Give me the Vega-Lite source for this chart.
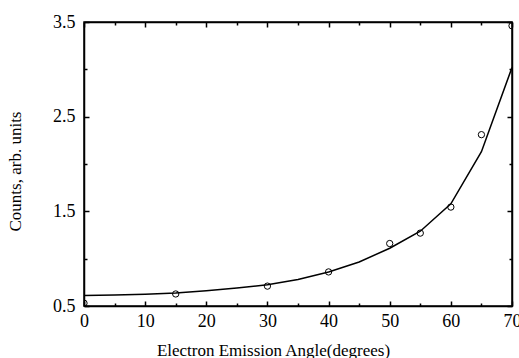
{
  "$schema": "https://vega.github.io/schema/vega-lite/v6.json",
  "width": 428,
  "height": 284,
  "autosize": {"type": "none"},
  "padding": {"left": 84, "top": 22, "right": 7, "bottom": 52},
  "background": "white",
  "config": {
    "view": {"stroke": "black", "strokeWidth": 1.5},
    "font": "Liberation Serif",
    "axis": {
      "domainColor": "black",
      "domainWidth": 1.5,
      "tickColor": "black",
      "tickWidth": 1.5,
      "grid": false,
      "labelFont": "Liberation Serif",
      "labelFontSize": 18,
      "labelFontWeight": "normal",
      "labelColor": "black",
      "titleFont": "Liberation Serif",
      "titleFontSize": 17,
      "titleFontWeight": "normal",
      "titleColor": "black"
    }
  },
  "datasets": {
    "fit": [
      {"angle": 0, "counts": 0.61},
      {"angle": 5, "counts": 0.615},
      {"angle": 10, "counts": 0.625},
      {"angle": 15, "counts": 0.637},
      {"angle": 20, "counts": 0.66},
      {"angle": 25, "counts": 0.69},
      {"angle": 30, "counts": 0.725},
      {"angle": 35, "counts": 0.78},
      {"angle": 40, "counts": 0.86},
      {"angle": 45, "counts": 0.965},
      {"angle": 50, "counts": 1.11},
      {"angle": 55, "counts": 1.29},
      {"angle": 60, "counts": 1.58},
      {"angle": 65, "counts": 2.13},
      {"angle": 70, "counts": 3.02}
    ],
    "obs": [
      {"angle": 0, "counts": 0.53},
      {"angle": 15, "counts": 0.627},
      {"angle": 30, "counts": 0.71},
      {"angle": 40, "counts": 0.86},
      {"angle": 50, "counts": 1.16},
      {"angle": 55, "counts": 1.27},
      {"angle": 60, "counts": 1.545},
      {"angle": 65, "counts": 2.31},
      {"angle": 70, "counts": 3.46}
    ]
  },
  "layer": [
    {
      "data": {"name": "fit"},
      "mark": {"type": "line", "color": "black", "strokeWidth": 1.5, "clip": true},
      "encoding": {
        "x": {
          "field": "angle", "type": "quantitative",
          "scale": {"domain": [0, 70], "nice": false, "zero": false},
          "axis": {
            "orient": "bottom",
            "title": "Electron Emission Angle(degrees)",
            "values": [0, 5, 10, 15, 20, 25, 30, 35, 40, 45, 50, 55, 60, 65, 70],
            "labelExpr": "datum.value % 10 === 0 ? datum.label : ''",
            "tickSize": {"condition": {"test": "datum.value % 10 !== 0", "value": -3}, "value": -5},
            "labelPadding": 11,
            "labelFlush": false,
            "labelOverlap": false,
            "titleX": 189,
            "titleY": 49,
            "titleBaseline": "alphabetic"
          }
        },
        "y": {
          "field": "counts", "type": "quantitative",
          "scale": {"domain": [0.5, 3.5], "nice": false, "zero": false},
          "axis": {
            "orient": "left",
            "title": "Counts, arb. units",
            "values": [0.5, 1, 1.5, 2, 2.5, 3, 3.5],
            "labelExpr": "(datum.value * 2) % 2 === 1 ? format(datum.value, '.1f') : ''",
            "tickSize": {"condition": {"test": "(datum.value * 2) % 2 !== 1", "value": -3}, "value": -5},
            "labelPadding": 14,
            "labelFlush": false,
            "labelOverlap": false,
            "titleX": -60,
            "titleY": 149
          }
        }
      }
    },
    {
      "data": {"name": "obs"},
      "mark": {"type": "point", "shape": "circle", "filled": false, "color": "black", "size": 40, "strokeWidth": 1, "clip": true, "opacity": 1},
      "encoding": {
        "x": {
          "field": "angle", "type": "quantitative",
          "axis": {
            "orient": "top",
            "title": null,
            "labels": false,
            "values": [0, 5, 10, 15, 20, 25, 30, 35, 40, 45, 50, 55, 60, 65, 70],
            "tickSize": {"condition": {"test": "datum.value % 10 !== 0", "value": -3}, "value": -5}
          }
        },
        "y": {
          "field": "counts", "type": "quantitative",
          "axis": {
            "orient": "right",
            "title": null,
            "labels": false,
            "values": [0.5, 1, 1.5, 2, 2.5, 3, 3.5],
            "tickSize": {"condition": {"test": "(datum.value * 2) % 2 !== 1", "value": -3}, "value": -5}
          }
        }
      }
    }
  ],
  "resolve": {"axis": {"x": "independent", "y": "independent"}}
}
